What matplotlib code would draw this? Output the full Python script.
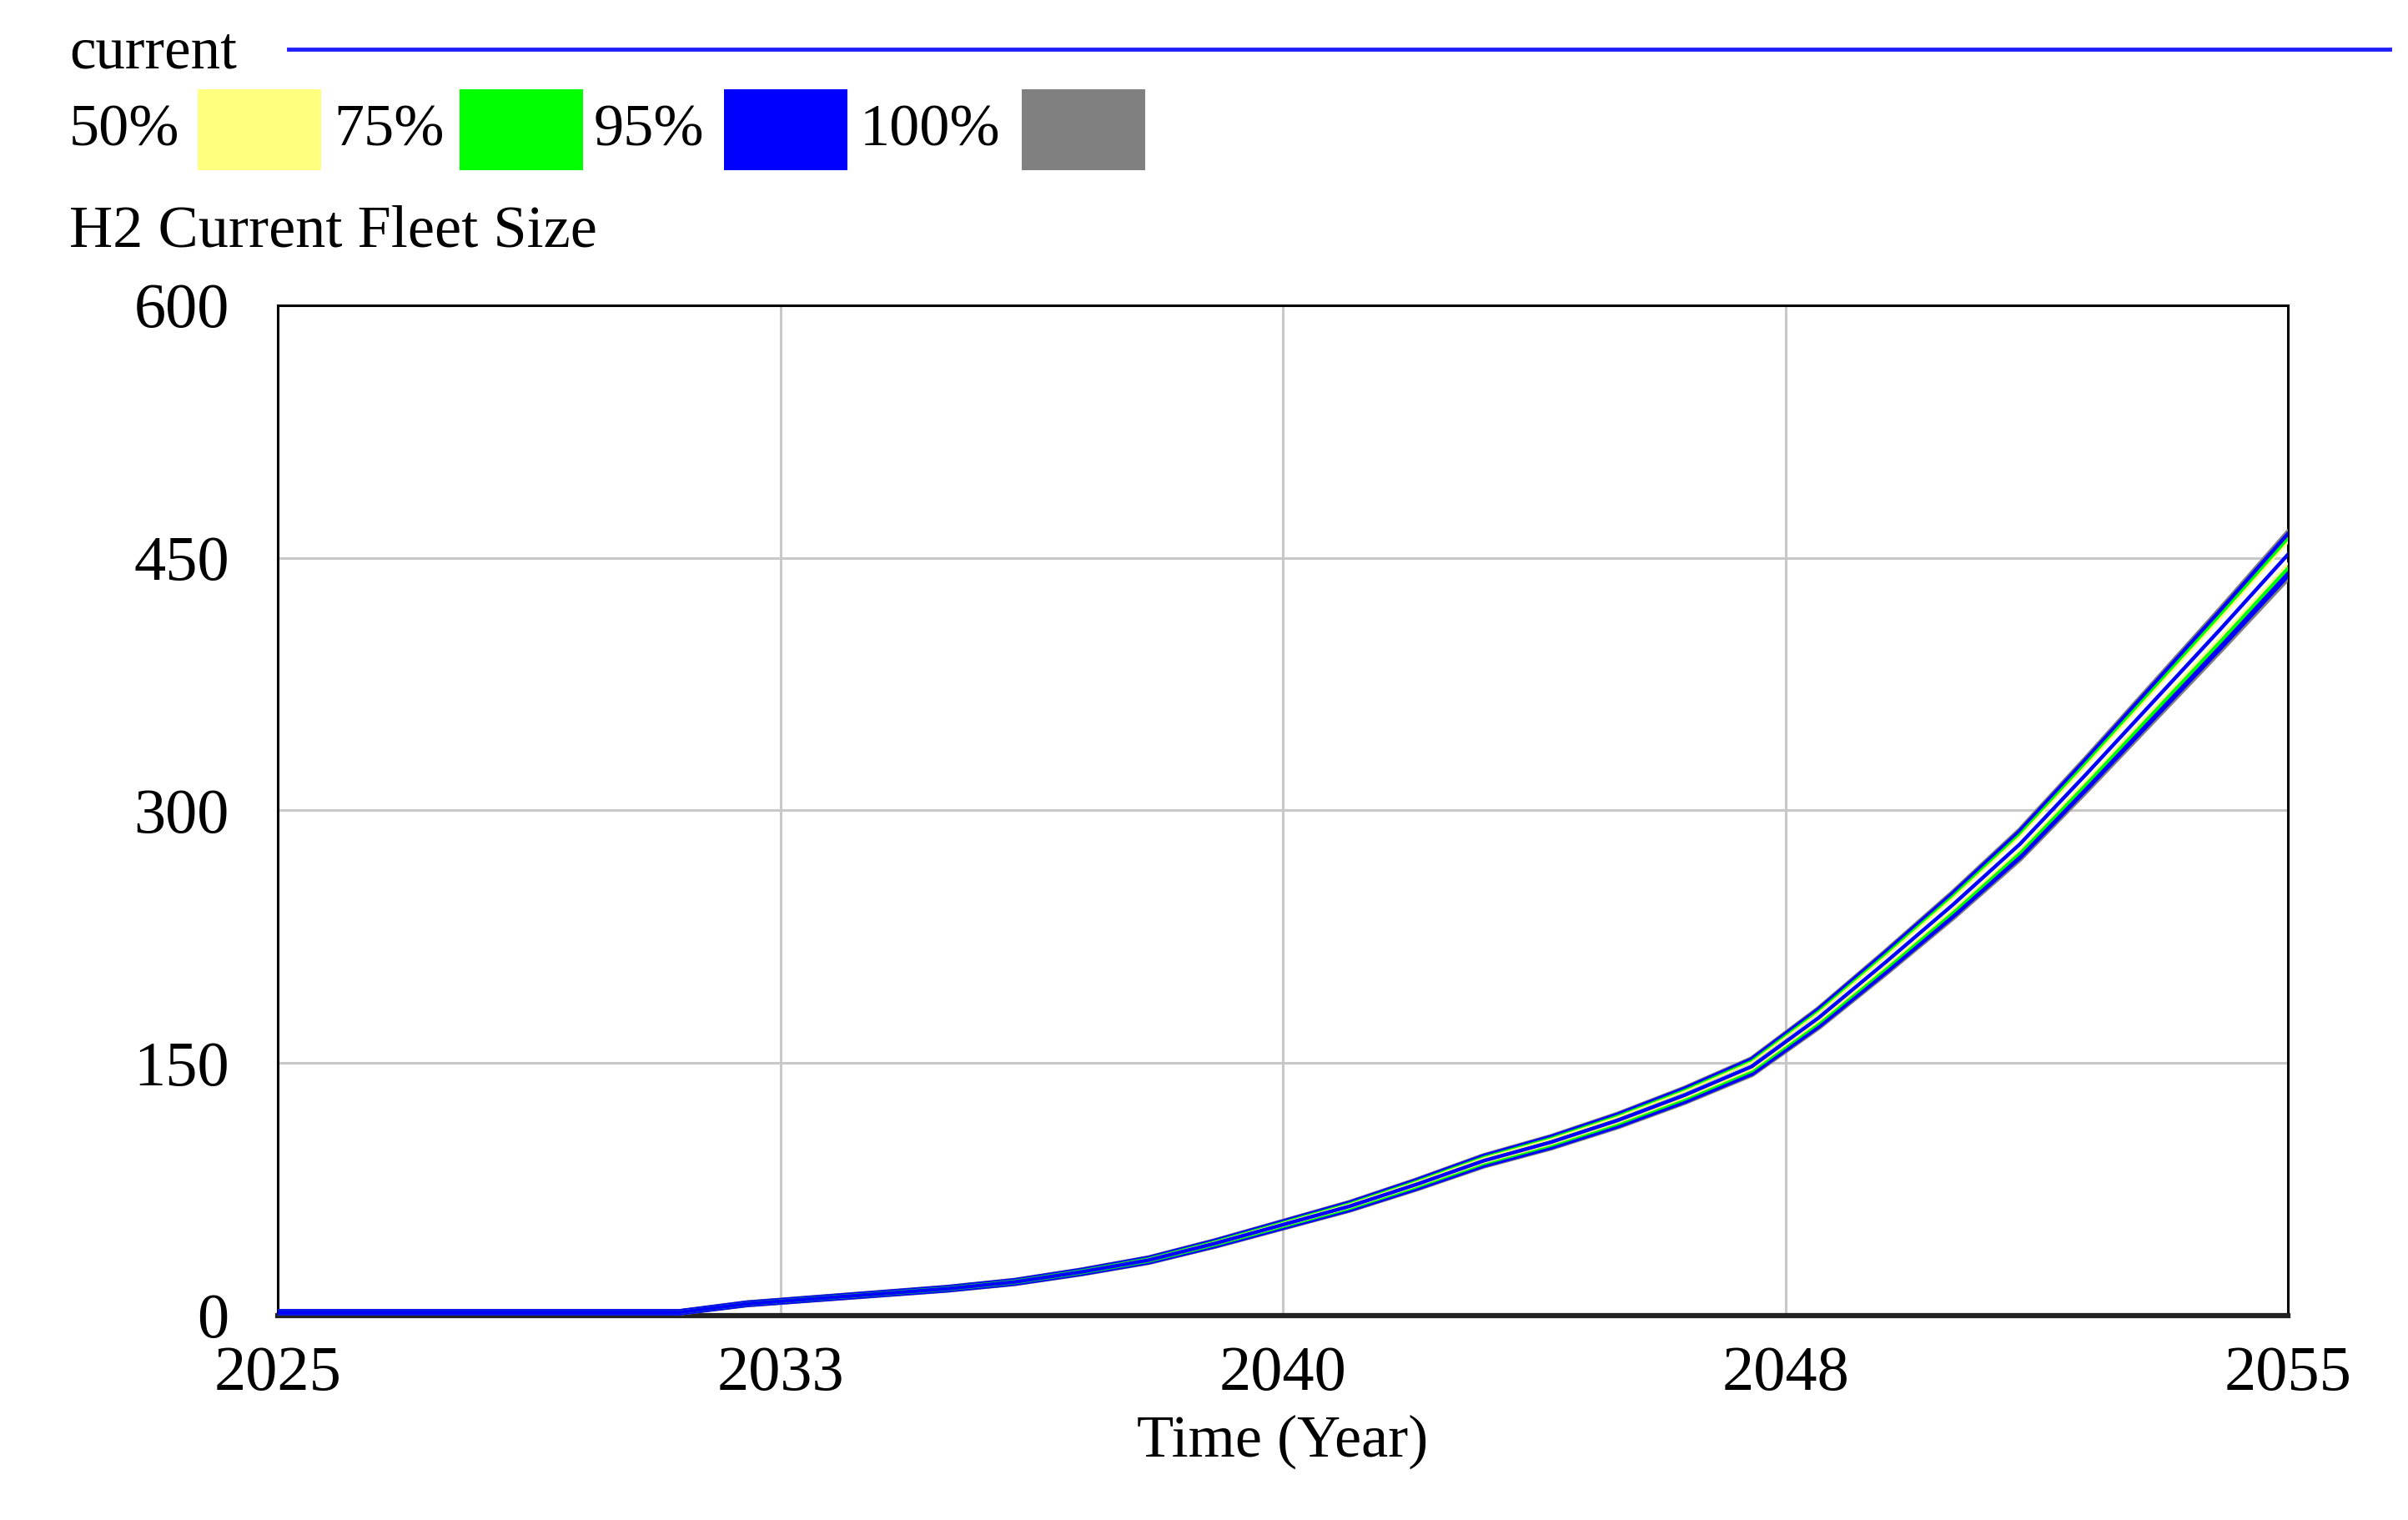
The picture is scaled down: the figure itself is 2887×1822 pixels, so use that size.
import matplotlib
matplotlib.use("Agg")
import matplotlib.pyplot as plt
from matplotlib.patches import Rectangle
from matplotlib.lines import Line2D
import numpy as np

plt.rcParams['font.family'] = ['Liberation Serif', 'DejaVu Serif']

####################
years = list(range(2025, 2056))
current = [2, 2, 2, 2, 2, 2, 2, 7, 10, 13, 16, 20, 26, 33, 43, 54,
           65, 78, 92, 103, 116, 131, 148, 177, 210, 244, 280, 322, 365, 408, 452]

# relative half-width of each confidence band (fraction of current)
band_names = ['50%', '75%', '95%', '100%']
band_colors = ['#ffff80', '#00ff00', '#0000ff', '#808080']
band_up = [0.016, 0.020, 0.025, 0.028]
band_lo = [0.012, 0.018, 0.026, 0.030]

xtick_pos = [2025, 2032.5, 2040, 2047.5, 2055]
xtick_labels = ['2025', '2033', '2040', '2048', '2055']
ytick_pos = [0, 150, 300, 450, 600]
####################

W, H = 2887, 1822
fig = plt.figure(figsize=(W / 100, H / 100), dpi=100)
ax = fig.add_axes([333 / W, 1 - 1577 / H, (2743 - 333) / W, (1577 - 366) / H])

cur = np.array(current, dtype=float)

# bands drawn widest first so narrower ones sit on top
for i in [3, 2, 1, 0]:
    up = cur * (1 + band_up[i])
    lo = cur * (1 - band_lo[i])
    lw = [1.8, 3.0, 5.2, 5.6][i]
    ax.plot(years, up, color=band_colors[i], lw=lw, solid_joinstyle='round', zorder=3 + (3 - i))
    ax.plot(years, lo, color=band_colors[i], lw=lw, solid_joinstyle='round', zorder=3 + (3 - i))

ax.plot(years, cur, color='#0000ff', lw=3.2, zorder=8)

ax.set_xlim(2025, 2055)
ax.set_ylim(0, 600)
ax.set_xticks(xtick_pos)
ax.set_xticklabels(xtick_labels)
ax.set_yticks(ytick_pos)
ax.set_yticklabels([str(v) for v in ytick_pos])
ax.tick_params(length=0, labelsize=55)
ax.tick_params(axis='y', pad=42)
ax.tick_params(axis='x', pad=26)
ax.grid(True, color='#c8c8c8', lw=2.2, zorder=0)
ax.set_axisbelow(True)
for s in ax.spines.values():
    s.set_linewidth(2.2)
    s.set_color('#000000')
ax.spines['bottom'].set_linewidth(4.5)
ax.spines['bottom'].set_color('#222222')
ax.set_xlabel('Time (Year)', fontsize=52, labelpad=10)

# legend area (Vensim style header)
def fx(px):
    return px / W

def fy(py):
    return 1 - py / H

fig.text(fx(83), fy(64), 'current', fontsize=51, va='center', ha='left')
fig.add_artist(Line2D([fx(346), fx(2865)], [fy(59), fy(59)], color='#2020ff', lw=3.5))

label_x = [83, 400, 712, 1031]
box_x = [237, 551, 868, 1225]
for i in range(4):
    fig.text(fx(label_x[i]), fy(157), band_names[i], fontsize=52, va='center', ha='left')
    fig.add_artist(Rectangle((fx(box_x[i]), fy(204)), fx(148), 97 / H,
                             facecolor=band_colors[i], edgecolor='none'))

fig.text(fx(83), fy(278), 'H2 Current Fleet Size', fontsize=52, va='center', ha='left')

fig.savefig('out.png', dpi=100)
